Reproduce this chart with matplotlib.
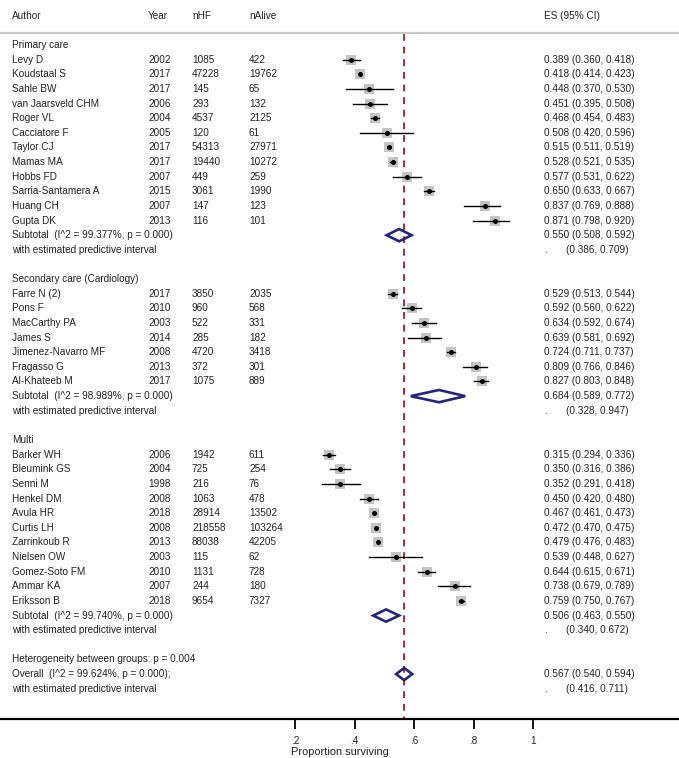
import matplotlib
matplotlib.use("Agg")
import matplotlib.pyplot as plt
from matplotlib.patches import Polygon

plt.rcParams['font.family'] = ['Liberation Sans', 'DejaVu Sans']

# DATA
groups = ["Primary care", "Secondary care (Cardiology)", "Multi"]

authors = [
    ["Levy D", "Koudstaal S", "Sahle BW", "van Jaarsveld CHM", "Roger VL", "Cacciatore F",
     "Taylor CJ", "Mamas MA", "Hobbs FD", "Sarria-Santamera A", "Huang CH", "Gupta DK"],
    ["Farre N (2)", "Pons F", "MacCarthy PA", "James S", "Jimenez-Navarro MF", "Fragasso G",
     "Al-Khateeb M"],
    ["Barker WH", "Bleumink GS", "Senni M", "Henkel DM", "Avula HR", "Curtis LH",
     "Zarrinkoub R", "Nielsen OW", "Gomez-Soto FM", "Ammar KA", "Eriksson B"],
]
years = [
    [2002, 2017, 2017, 2006, 2004, 2005, 2017, 2017, 2007, 2015, 2007, 2013],
    [2017, 2010, 2003, 2014, 2008, 2013, 2017],
    [2006, 2004, 1998, 2008, 2018, 2008, 2013, 2003, 2010, 2007, 2018],
]
n_hf = [
    [1085, 47228, 145, 293, 4537, 120, 54313, 19440, 449, 3061, 147, 116],
    [3850, 960, 522, 285, 4720, 372, 1075],
    [1942, 725, 216, 1063, 28914, 218558, 88038, 115, 1131, 244, 9654],
]
n_alive = [
    [422, 19762, 65, 132, 2125, 61, 27971, 10272, 259, 1990, 123, 101],
    [2035, 568, 331, 182, 3418, 301, 889],
    [611, 254, 76, 478, 13502, 103264, 42205, 62, 728, 180, 7327],
]
es = [
    [0.389, 0.418, 0.448, 0.451, 0.468, 0.508, 0.515, 0.528, 0.577, 0.650, 0.837, 0.871],
    [0.529, 0.592, 0.634, 0.639, 0.724, 0.809, 0.827],
    [0.315, 0.350, 0.352, 0.450, 0.467, 0.472, 0.479, 0.539, 0.644, 0.738, 0.759],
]
ci_lo = [
    [0.360, 0.414, 0.370, 0.395, 0.454, 0.420, 0.511, 0.521, 0.531, 0.633, 0.769, 0.798],
    [0.513, 0.560, 0.592, 0.581, 0.711, 0.766, 0.803],
    [0.294, 0.316, 0.291, 0.420, 0.461, 0.470, 0.476, 0.448, 0.615, 0.679, 0.750],
]
ci_hi = [
    [0.418, 0.423, 0.530, 0.508, 0.483, 0.596, 0.519, 0.535, 0.622, 0.667, 0.888, 0.920],
    [0.544, 0.622, 0.674, 0.692, 0.737, 0.846, 0.848],
    [0.336, 0.386, 0.418, 0.480, 0.473, 0.475, 0.483, 0.627, 0.671, 0.789, 0.767],
]

sub_es = [0.550, 0.684, 0.506]
sub_lo = [0.508, 0.589, 0.463]
sub_hi = [0.592, 0.772, 0.550]
sub_pi_lo = [0.386, 0.328, 0.340]
sub_pi_hi = [0.709, 0.947, 0.672]
sub_i2 = [99.377, 98.989, 99.740]

het_p = 0.004
overall_es, overall_lo, overall_hi = 0.567, 0.540, 0.594
overall_pi = (0.416, 0.711)
overall_i2 = 99.624

ticks = [0.2, 0.4, 0.6, 0.8, 1.0]
tick_labels = [".2", ".4", ".6", ".8", "1"]

# FIGURE
W, H = 679, 758
fig = plt.figure(figsize=(W / 100, H / 100), dpi=100)
row0_px, row_px, axis_px = 45, 14.63, 719
ax = fig.add_axes([0, (H - axis_px) / H, 1, axis_px / H])
x0_px, scale = 295, 297.5  # pixel of x=.2, pixels per unit
ax.set_xlim(0.2 - x0_px / scale, 0.2 + (W - x0_px) / scale)
ybot = (axis_px - row0_px) / row_px
ax.set_ylim(ybot, -row0_px / row_px)

for s in ['top', 'left', 'right']:
    ax.spines[s].set_visible(False)
ax.spines['bottom'].set_linewidth(1.6)
ax.set_yticks([])
ax.set_xticks(ticks)
ax.set_xticklabels(tick_labels)
ax.tick_params(axis='x', direction='out', length=7, width=1.3, pad=5, labelsize=7.2,
               labelcolor='#222222')

tr = ax.get_yaxis_transform()
fs = 7.2
col = '#222222'

def txt(px, y, s):
    ax.text(px / W, y, s, transform=tr, fontsize=fs, color=col, va='center', ha='left')

# header
hdr = -2
txt(12, hdr, "Author")
txt(148, hdr, "Year")
txt(192, hdr, "nHF")
txt(249, hdr, "nAlive")
txt(544, hdr, "ES (95% CI)")
ax.axhline(-0.8, color='#c8c8c8', lw=1.6)

diamond_col = '#262673'

def diamond(y, m, lo, hi, h=0.42):
    ax.add_patch(Polygon([(lo, y), (m, y - h), (hi, y), (m, y + h)], closed=True,
                         fill=False, edgecolor=diamond_col, lw=1.9, zorder=4))

r = 0
for g in range(len(groups)):
    txt(12, r, groups[g])
    r += 1
    for i in range(len(authors[g])):
        txt(12, r, authors[g][i])
        txt(148, r, str(years[g][i]))
        txt(192, r, str(n_hf[g][i]))
        txt(249, r, str(n_alive[g][i]))
        txt(544, r, f"{es[g][i]:.3f} ({ci_lo[g][i]:.3f}, {ci_hi[g][i]:.3f})")
        ax.plot([ci_lo[g][i], ci_hi[g][i]], [r, r], color='black', lw=1.0, zorder=3)
        ax.scatter(es[g][i], r, marker='s', s=52, color='#c4c4c4', zorder=2, lw=0)
        ax.scatter(es[g][i], r, marker='o', s=13, color='black', zorder=4, lw=0)
        r += 1
    txt(12, r, f"Subtotal  (I^2 = {sub_i2[g]:.3f}%, p = 0.000)")
    txt(544, r, f"{sub_es[g]:.3f} ({sub_lo[g]:.3f}, {sub_hi[g]:.3f})")
    diamond(r, sub_es[g], sub_lo[g], sub_hi[g])
    r += 1
    txt(12, r, "with estimated predictive interval")
    txt(544, r, ".")
    txt(566, r, f"({sub_pi_lo[g]:.3f}, {sub_pi_hi[g]:.3f})")
    r += 2

txt(12, r, f"Heterogeneity between groups: p = {het_p:.3f}")
r += 1
txt(12, r, f"Overall  (I^2 = {overall_i2:.3f}%, p = 0.000);")
txt(544, r, f"{overall_es:.3f} ({overall_lo:.3f}, {overall_hi:.3f})")
diamond(r, overall_es, overall_lo, overall_hi)
r += 1
txt(12, r, "with estimated predictive interval")
txt(544, r, ".")
txt(566, r, f"({overall_pi[0]:.3f}, {overall_pi[1]:.3f})")

ax.vlines(overall_es, -0.75, ybot, colors='#9a2f3f', linestyles=(0, (3.5, 3)), lw=1.4, zorder=1)

fig.text(291 / W, 1 - 752 / H, "Proportion surviving", fontsize=7.9, color=col,
         ha='left', va='center')

plt.savefig("out.png", dpi=100)
